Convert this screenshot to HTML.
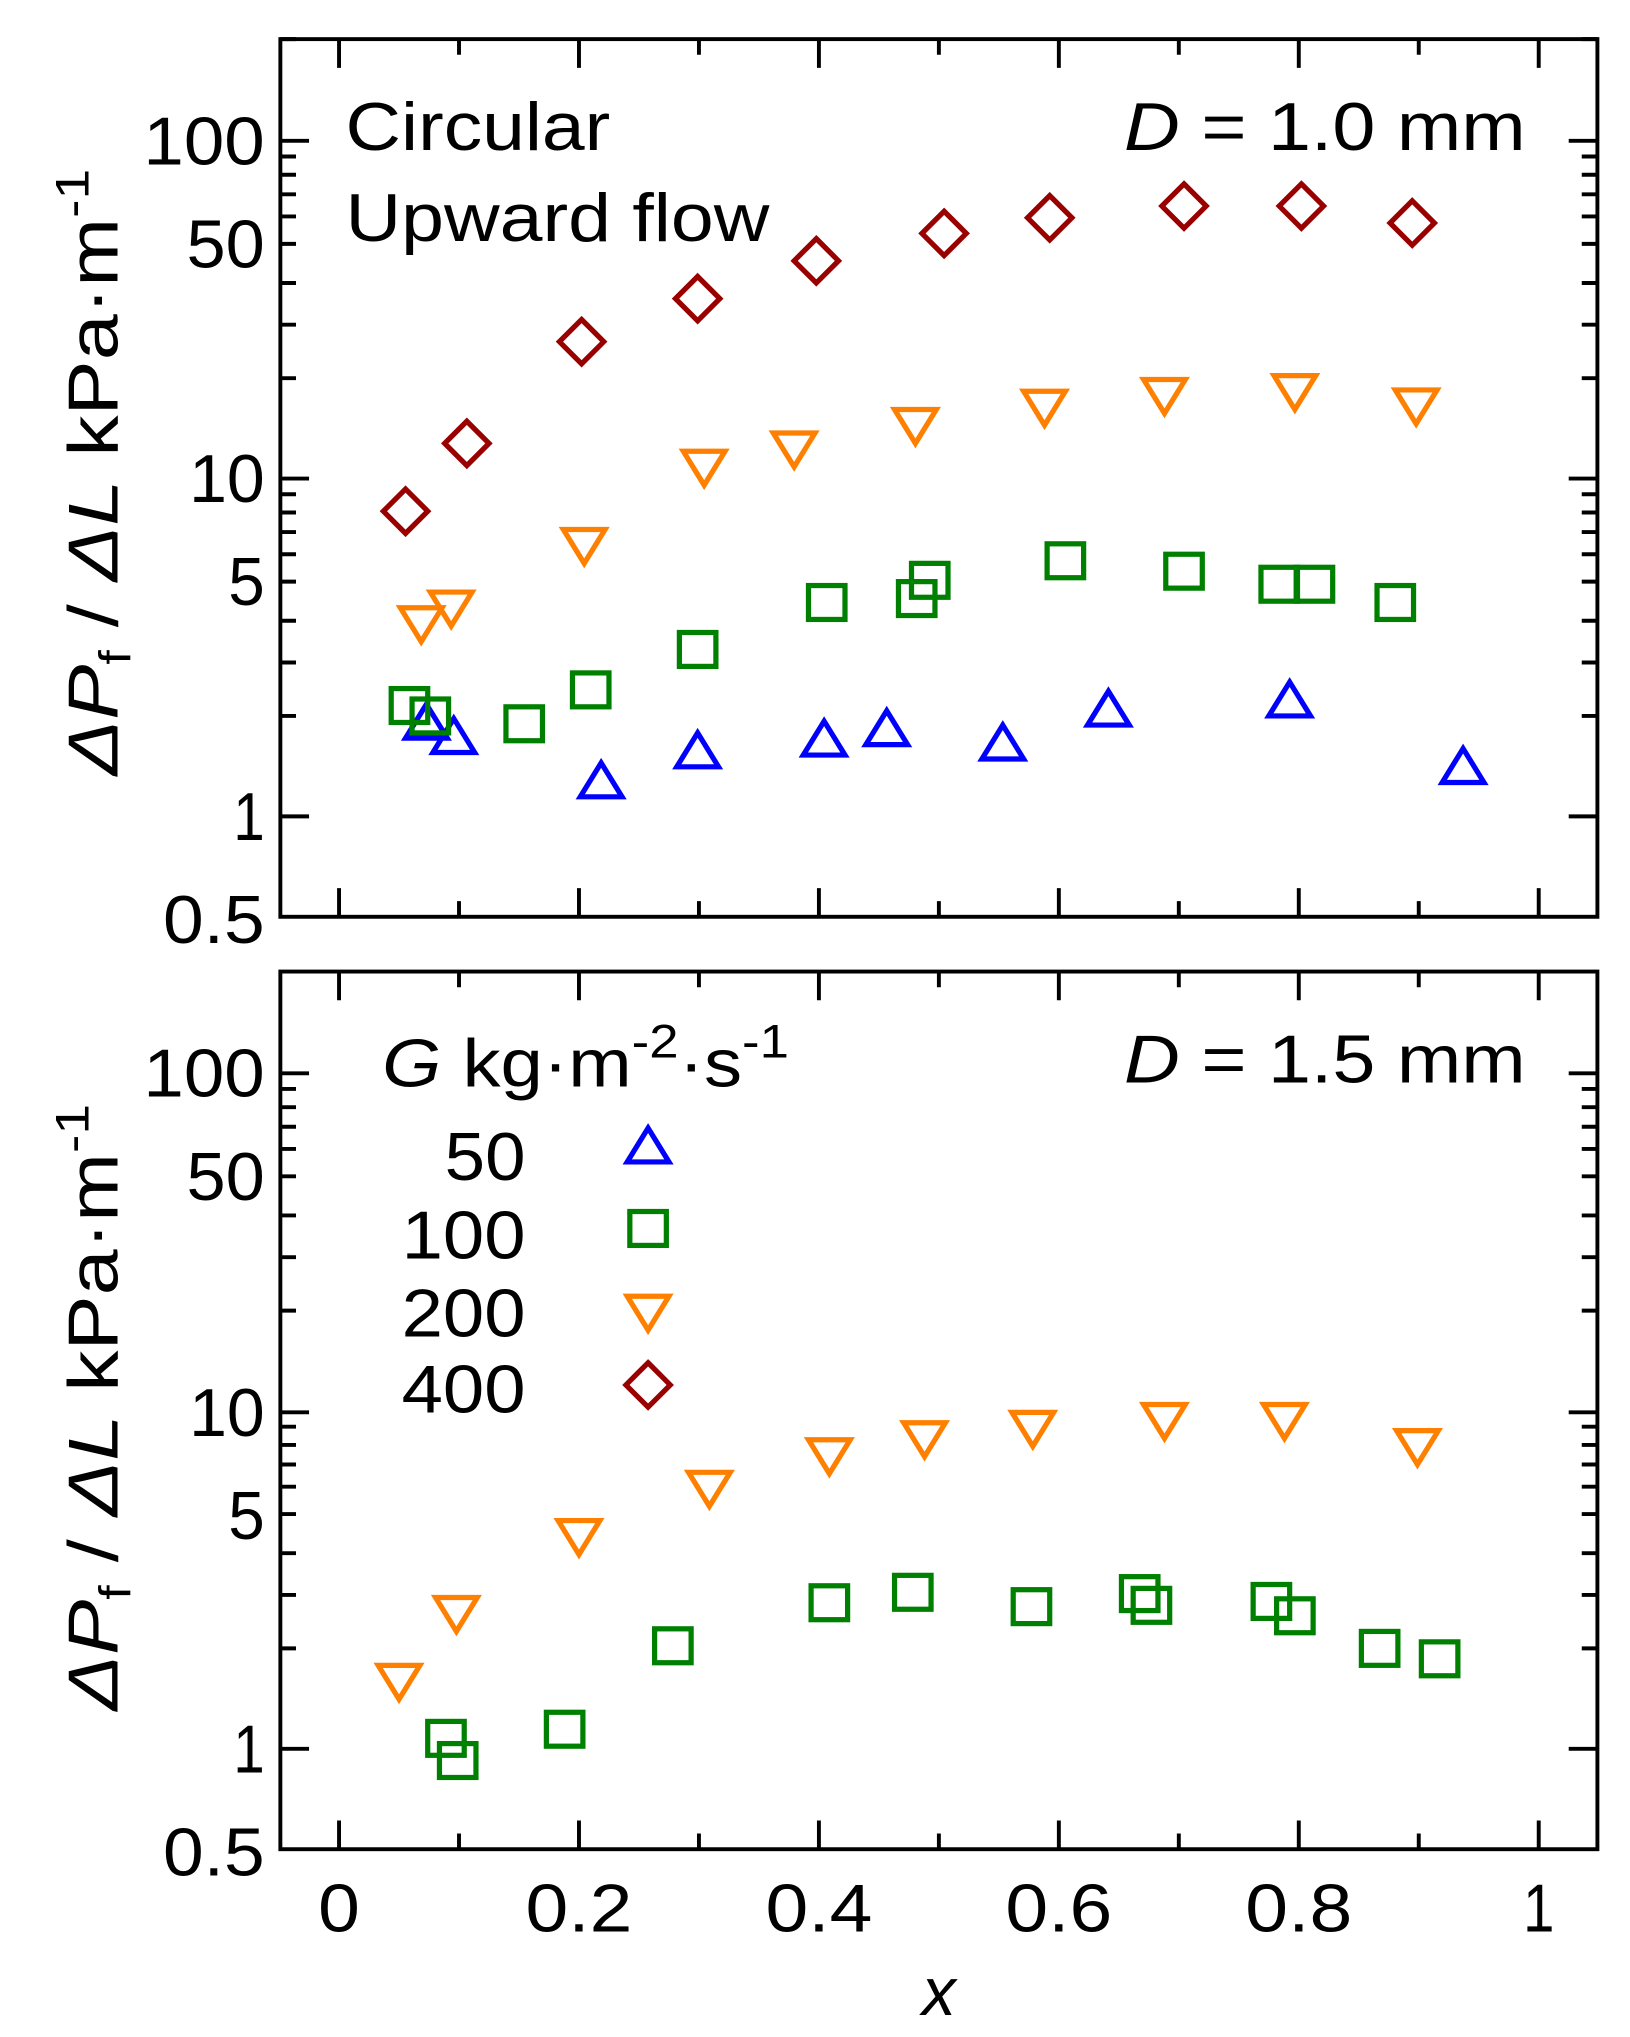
<!DOCTYPE html>
<html><head><meta charset="utf-8"><style>
html,body{margin:0;padding:0;background:#fff}
svg{display:block}
text{font-family:"Liberation Sans",Arial,sans-serif;fill:#000}
</style></head><body>
<svg width="1630" height="2037" viewBox="0 0 1250 1562" preserveAspectRatio="none" xmlns="http://www.w3.org/2000/svg">
<defs>
<g id="dia"><path d="M0,-17 L17,0 L0,17 L-17,0 Z" fill="none" stroke="#990000" stroke-width="4"/></g>
<g id="dn"><path d="M-16,-11 L16,-11 L0,15 Z" fill="none" stroke="#ff8000" stroke-width="4"/></g>
<g id="up"><path d="M-16,11 L16,11 L0,-15 Z" fill="none" stroke="#0000ff" stroke-width="4"/></g>
<g id="sq"><rect x="-14" y="-13" width="28" height="26" fill="none" stroke="#008000" stroke-width="4"/></g>
</defs>

<g stroke="#000" stroke-width="3" fill="none">
<rect x="215" y="30" width="1010" height="673"/>
<rect x="215" y="745" width="1010" height="673"/>
</g>

<g font-size="52" text-anchor="end" lengthAdjust="spacingAndGlyphs">
<text x="203" y="126" textLength="93" lengthAdjust="spacingAndGlyphs">100</text><text x="203" y="205" textLength="60" lengthAdjust="spacingAndGlyphs">50</text><text x="203" y="385" textLength="58" lengthAdjust="spacingAndGlyphs">10</text><text x="203" y="464" textLength="28" lengthAdjust="spacingAndGlyphs">5</text><text x="203" y="644" textLength="24" lengthAdjust="spacingAndGlyphs">1</text><text x="203" y="723" textLength="78" lengthAdjust="spacingAndGlyphs">0.5</text>
<text x="203" y="841" textLength="93" lengthAdjust="spacingAndGlyphs">100</text><text x="203" y="920" textLength="60" lengthAdjust="spacingAndGlyphs">50</text><text x="203" y="1101" textLength="58" lengthAdjust="spacingAndGlyphs">10</text><text x="203" y="1180" textLength="28" lengthAdjust="spacingAndGlyphs">5</text><text x="203" y="1359" textLength="24" lengthAdjust="spacingAndGlyphs">1</text><text x="203" y="1438" textLength="78" lengthAdjust="spacingAndGlyphs">0.5</text>
</g>
<g font-size="52" text-anchor="middle">
<text x="260" y="1481" textLength="32" lengthAdjust="spacingAndGlyphs">0</text><text x="444" y="1481" textLength="82" lengthAdjust="spacingAndGlyphs">0.2</text><text x="628" y="1481" textLength="82" lengthAdjust="spacingAndGlyphs">0.4</text><text x="812" y="1481" textLength="82" lengthAdjust="spacingAndGlyphs">0.6</text><text x="996" y="1481" textLength="82" lengthAdjust="spacingAndGlyphs">0.8</text><text x="1180" y="1481" textLength="24" lengthAdjust="spacingAndGlyphs">1</text>
<text x="720" y="1545" font-style="italic">x</text>
</g>
<g font-size="52">
<text x="265" y="115" textLength="203" lengthAdjust="spacingAndGlyphs">Circular</text>
<text x="265" y="185" textLength="325" lengthAdjust="spacingAndGlyphs">Upward flow</text>
<text x="862" y="115" textLength="308" lengthAdjust="spacingAndGlyphs"><tspan font-style="italic">D</tspan> = 1.0 mm</text>
<text x="862" y="830" textLength="308" lengthAdjust="spacingAndGlyphs"><tspan font-style="italic">D</tspan> = 1.5 mm</text>
<text x="293" y="833" textLength="312" lengthAdjust="spacingAndGlyphs"><tspan font-style="italic">G</tspan> kg·m<tspan dy="-22" font-size="36">-2</tspan><tspan dy="22">·s</tspan><tspan dy="-22" font-size="36">-1</tspan></text>
<text x="403" y="905" text-anchor="end" textLength="62" lengthAdjust="spacingAndGlyphs">50</text>
<text x="403" y="965" text-anchor="end" textLength="95" lengthAdjust="spacingAndGlyphs">100</text>
<text x="403" y="1025" text-anchor="end" textLength="95" lengthAdjust="spacingAndGlyphs">200</text>
<text x="403" y="1083" text-anchor="end" textLength="95" lengthAdjust="spacingAndGlyphs">400</text>
</g>
<g font-size="54">
<text transform="translate(90,362) rotate(-90)" text-anchor="middle" textLength="465" lengthAdjust="spacingAndGlyphs"><tspan font-style="italic">ΔP</tspan><tspan font-size="34" dy="10">f</tspan><tspan dy="-10"> / </tspan><tspan font-style="italic">ΔL</tspan>  kPa·m<tspan dy="-22" font-size="36">-1</tspan></text>
<text transform="translate(90,1079) rotate(-90)" text-anchor="middle" textLength="465" lengthAdjust="spacingAndGlyphs"><tspan font-style="italic">ΔP</tspan><tspan font-size="34" dy="10">f</tspan><tspan dy="-10"> / </tspan><tspan font-style="italic">ΔL</tspan>  kPa·m<tspan dy="-22" font-size="36">-1</tspan></text>
</g>

<use href="#up" x="497" y="880"/><use href="#sq" x="497" y="942"/><use href="#dn" x="497" y="1005"/><use href="#dia" x="497" y="1062"/>

<use href="#dia" x="311" y="392"/><use href="#dia" x="358" y="340"/><use href="#dia" x="446" y="262"/><use href="#dia" x="535" y="229"/><use href="#dia" x="626" y="200"/><use href="#dia" x="724" y="179"/><use href="#dia" x="805" y="167"/><use href="#dia" x="908" y="158"/><use href="#dia" x="998" y="158"/><use href="#dia" x="1083" y="171"/>
<use href="#dn" x="323" y="477"/><use href="#dn" x="346" y="465"/><use href="#dn" x="448" y="417"/><use href="#dn" x="540" y="357"/><use href="#dn" x="609" y="343"/><use href="#dn" x="702" y="325"/><use href="#dn" x="801" y="311"/><use href="#dn" x="893" y="302"/><use href="#dn" x="993" y="299"/><use href="#dn" x="1086" y="310"/>
<use href="#up" x="327" y="555"/><use href="#up" x="348" y="566"/><use href="#up" x="461" y="600"/><use href="#up" x="535" y="577"/><use href="#up" x="632" y="568"/><use href="#up" x="680" y="560"/><use href="#up" x="769" y="571"/><use href="#up" x="850" y="545"/><use href="#up" x="989" y="538"/><use href="#up" x="1122" y="589"/>
<use href="#sq" x="314" y="541"/><use href="#sq" x="330" y="549"/><use href="#sq" x="402" y="555"/><use href="#sq" x="453" y="529"/><use href="#sq" x="535" y="498"/><use href="#sq" x="634" y="462"/><use href="#sq" x="703" y="459"/><use href="#sq" x="713" y="445"/><use href="#sq" x="817" y="430"/><use href="#sq" x="908" y="438"/><use href="#sq" x="981" y="448"/><use href="#sq" x="1008" y="448"/><use href="#sq" x="1070" y="462"/>

<use href="#dn" x="306" y="1288"/><use href="#dn" x="350" y="1236"/><use href="#dn" x="444" y="1177"/><use href="#dn" x="544" y="1140"/><use href="#dn" x="636" y="1115"/><use href="#dn" x="709" y="1102"/><use href="#dn" x="792" y="1094"/><use href="#dn" x="893" y="1088"/><use href="#dn" x="985" y="1088"/><use href="#dn" x="1087" y="1108"/>
<use href="#sq" x="342" y="1333"/><use href="#sq" x="351" y="1350"/><use href="#sq" x="433" y="1326"/><use href="#sq" x="516" y="1262"/><use href="#sq" x="636" y="1229"/><use href="#sq" x="700" y="1221"/><use href="#sq" x="791" y="1232"/><use href="#sq" x="874" y="1222"/><use href="#sq" x="883" y="1231"/><use href="#sq" x="975" y="1228"/><use href="#sq" x="993" y="1239"/><use href="#sq" x="1058" y="1264"/><use href="#sq" x="1104" y="1272"/>

<path stroke="#000" stroke-width="3" fill="none" d="
M260,703v-22M352,703v-12M444,703v-22M536,703v-12M628,703v-22M720,703v-12M812,703v-22M904,703v-12M996,703v-22M1088,703v-12M1180,703v-22
M260,30v22M352,30v12M444,30v22M536,30v12M628,30v22M720,30v12M812,30v22M904,30v12M996,30v22M1088,30v12M1180,30v22
M260,1418v-22M352,1418v-12M444,1418v-22M536,1418v-12M628,1418v-22M720,1418v-12M812,1418v-22M904,1418v-12M996,1418v-22M1088,1418v-12M1180,1418v-22
M260,745v22M352,745v12M444,745v22M536,745v12M628,745v22M720,745v12M812,745v22M904,745v12M996,745v22M1088,745v12M1180,745v22
M215,108h22M215,367h22M215,626h22M1225,108h-22M1225,367h-22M1225,626h-22
M215,823h22M215,1083h22M215,1341h22M1225,823h-22M1225,1083h-22M1225,1341h-22
M215,30h12M215,290h12M215,249h12M215,217h12M215,187h12M215,166h12M215,149h12M215,134h12M215,120h12
M215,549h12M215,508h12M215,476h12M215,446h12M215,425h12M215,408h12M215,393h12M215,379h12
M1225,30h-12M1225,290h-12M1225,249h-12M1225,217h-12M1225,187h-12M1225,166h-12M1225,149h-12M1225,134h-12M1225,120h-12
M1225,549h-12M1225,508h-12M1225,476h-12M1225,446h-12M1225,425h-12M1225,408h-12M1225,393h-12M1225,379h-12
M215,1005h12M215,964h12M215,932h12M215,902h12M215,881h12M215,864h12M215,849h12M215,835h12
M215,1264h12M215,1223h12M215,1191h12M215,1161h12M215,1140h12M215,1123h12M215,1108h12M215,1094h12
M1225,1005h-12M1225,964h-12M1225,932h-12M1225,902h-12M1225,881h-12M1225,864h-12M1225,849h-12M1225,835h-12
M1225,1264h-12M1225,1223h-12M1225,1191h-12M1225,1161h-12M1225,1140h-12M1225,1123h-12M1225,1108h-12M1225,1094h-12
"/>
</svg>
</body></html>
